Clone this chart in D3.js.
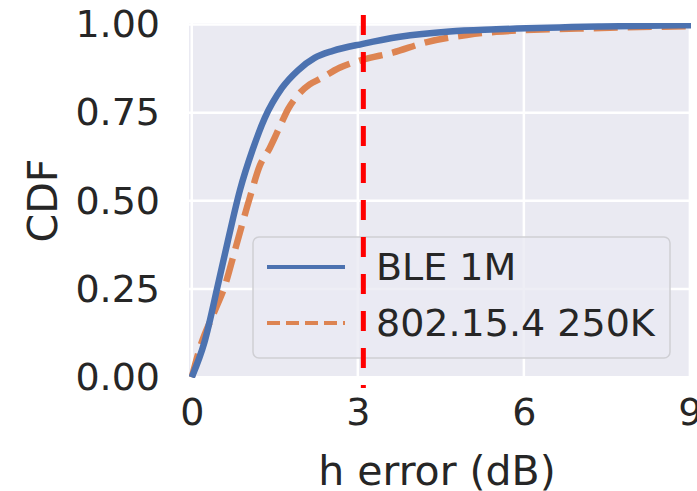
<!DOCTYPE html>
<html>
<head>
<meta charset="utf-8">
<script src="https://cdn.jsdelivr.net/npm/d3@7"></script>
<style>
  body { margin: 0; background: #fff; }
  svg { display: block; font-family: "DejaVu Sans", sans-serif; }
</style>
</head>
<body>
<div id="chart"></div>
<script>
// values
const bleErr = [0, 0.23, 0.47, 0.65, 0.87, 1.10, 1.32, 1.63, 1.92, 2.22, 2.55, 3.09, 3.76, 4.66, 5.5, 7.4, 9.1];
const bleCdf = [0, 0.10, 0.26, 0.385, 0.53, 0.645, 0.735, 0.82, 0.87, 0.905, 0.925, 0.945, 0.965, 0.98, 0.986, 0.994, 0.998];
const zbErr = [0, 0.15, 0.42, 0.6, 0.78, 1.05, 1.23, 1.41, 1.59, 1.74, 1.92, 2.13, 2.31, 2.67, 3.09, 3.63, 4.25, 4.97, 5.5, 7.4, 9.1];
const zbCdf = [0, 0.085, 0.19, 0.26, 0.36, 0.51, 0.60, 0.65, 0.71, 0.76, 0.80, 0.83, 0.845, 0.877, 0.90, 0.92, 0.95, 0.97, 0.979, 0.99, 0.995];
const seriesNames = ["BLE 1M", "802.15.4 250K"];
const xTicks = [0, 3, 6, 9];
const yTicks = [0, 0.25, 0.5, 0.75, 1.0];
const threshold = 3.1;

const width = 697, height = 491;
const plotL = 189, plotR = 691, plotT = 23, plotB = 378;
const textColor = "#262626";
const fontSize = 38;
const labelSize = 41;

const svg = d3.select("#chart").append("svg")
  .attr("width", width)
  .attr("height", height);

const x = d3.scaleLinear().domain([-0.05, 9.02]).range([plotL, plotR]);
const y = d3.scaleLinear().domain([-0.002, 1.004]).range([plotB, plotT]);

const defs = svg.append("defs");
defs.append("clipPath").attr("id", "plotClip")
  .append("rect")
    .attr("x", plotL).attr("y", plotT)
    .attr("width", plotR - plotL).attr("height", plotB - plotT);
defs.append("filter").attr("id", "blur")
  .attr("x", "-200%").attr("width", "500%")
  .append("feGaussianBlur").attr("stdDeviation", 1.8);

// background + grid
svg.append("rect")
  .attr("x", plotL).attr("y", plotT)
  .attr("width", plotR - plotL).attr("height", plotB - plotT)
  .attr("fill", "#eaeaf2");

const grid = svg.append("g").attr("clip-path", "url(#plotClip)");
grid.selectAll(".gx").data(xTicks).join("line")
  .attr("x1", d => x(d)).attr("x2", d => x(d))
  .attr("y1", plotT).attr("y2", plotB)
  .attr("stroke", "#fff").attr("stroke-width", 2.5);
grid.selectAll(".gy").data(yTicks).join("line")
  .attr("y1", d => y(d)).attr("y2", d => y(d))
  .attr("x1", plotL).attr("x2", plotR)
  .attr("stroke", "#fff").attr("stroke-width", 2.5);

// axes, no domain or tick lines
const xAxis = svg.append("g")
  .attr("transform", `translate(0,${plotB})`)
  .call(d3.axisBottom(x).tickValues(xTicks).tickFormat(d3.format("d")).tickSize(0).tickPadding(20))
  .call(g => g.select(".domain").remove());
xAxis.selectAll("text")
  .attr("font-size", fontSize).attr("fill", textColor)
  .attr("font-family", "DejaVu Sans");

const yAxis = svg.append("g")
  .attr("transform", `translate(${plotL},0)`)
  .call(d3.axisLeft(y).tickValues(yTicks).tickFormat(d3.format(".2f")).tickSize(0).tickPadding(29))
  .call(g => g.select(".domain").remove());
yAxis.selectAll("text")
  .attr("font-size", fontSize).attr("fill", textColor)
  .attr("font-family", "DejaVu Sans");

svg.append("text")
  .attr("x", (plotL + plotR) / 2 - 3).attr("y", 485)
  .attr("text-anchor", "middle")
  .attr("font-size", labelSize).attr("fill", textColor)
  .text("h error (dB)");

svg.append("text")
  .attr("transform", `translate(57,${(plotT + plotB) / 2}) rotate(-90)`)
  .attr("text-anchor", "middle")
  .attr("font-size", labelSize).attr("fill", textColor)
  .text("CDF");

// curves
const line = d3.line()
  .x(d => x(d[0]))
  .y(d => y(d[1]))
  .curve(d3.curveMonotoneX);

const plot = svg.append("g").attr("clip-path", "url(#plotClip)");
plot.append("path")
  .datum(d3.zip(zbErr, zbCdf))
  .attr("d", line)
  .attr("fill", "none")
  .attr("stroke", "#dd8452")
  .attr("stroke-width", 6.5)
  .attr("stroke-dasharray", "24,10");
plot.append("path")
  .datum(d3.zip(bleErr, bleCdf))
  .attr("d", line)
  .attr("fill", "none")
  .attr("stroke", "#4c72b0")
  .attr("stroke-width", 6.5);

// legend
const lg = svg.append("g");
lg.append("rect")
  .attr("x", 253).attr("y", 237)
  .attr("width", 417).attr("height", 121)
  .attr("rx", 6)
  .attr("fill", "#eaeaf2").attr("fill-opacity", 0.8)
  .attr("stroke", "#cfcfd4").attr("stroke-width", 1.5);

const legendItems = [
  { name: seriesNames[0], color: "#4c72b0", dash: null, yy: 267 },
  { name: seriesNames[1], color: "#dd8452", dash: "13,6", yy: 323 }
];
legendItems.forEach(it => {
  lg.append("line")
    .attr("x1", 267).attr("x2", 345)
    .attr("y1", it.yy).attr("y2", it.yy)
    .attr("stroke", it.color).attr("stroke-width", 4)
    .attr("stroke-dasharray", it.dash);
  lg.append("text")
    .attr("x", 376).attr("y", it.yy + 13)
    .attr("font-size", fontSize).attr("fill", textColor)
    .text(it.name);
});

// threshold line with a soft shadow
const tx = x(threshold);
svg.append("line")
  .attr("x1", tx - 3).attr("x2", tx - 3)
  .attr("y1", 12).attr("y2", 394)
  .attr("stroke", "#888").attr("stroke-opacity", 0.55)
  .attr("stroke-width", 5)
  .attr("filter", "url(#blur)");
svg.append("line")
  .attr("x1", tx).attr("x2", tx)
  .attr("y1", 15).attr("y2", 388)
  .attr("stroke", "#ff0000")
  .attr("stroke-width", 5)
  .attr("stroke-dasharray", "20,17");
</script>
</body>
</html>
